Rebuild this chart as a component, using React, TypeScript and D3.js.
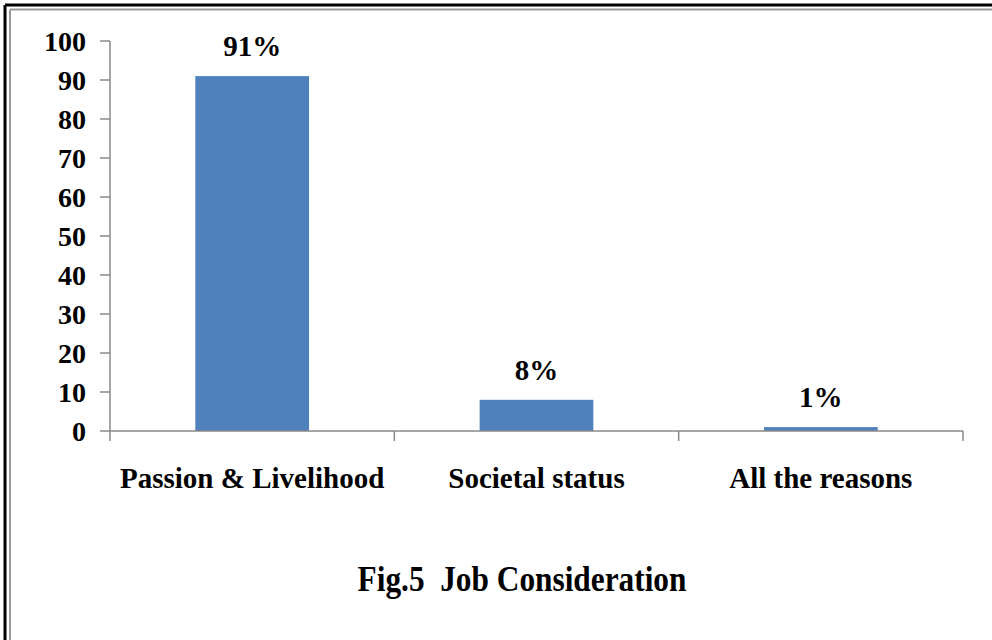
import React from "react";
import * as d3 from "d3";

const categories = ["Passion & Livelihood", "Societal status", "All the reasons"];
const values = [91, 8, 1];
const valueLabels = ["91%", "8%", "1%"];
const yTicks = [0, 10, 20, 30, 40, 50, 60, 70, 80, 90, 100];
const title = "Fig.5  Job Consideration";

const W = 992;
const H = 640;
const x0 = 110, x1 = 963, y0 = 431, y1 = 41;
const font = "'Liberation Serif', 'Times New Roman', serif";

export default function App() {
  const x = d3.scaleBand<string>().domain(categories).range([x0, x1]).paddingInner(0.6).paddingOuter(0.3);
  const xb = d3.scaleBand<string>().domain(categories).range([x0, x1]);
  const y = d3.scaleLinear().domain([0, 100]).range([y0, y1]);
  const boundaries = [x0, ...categories.map((c) => (xb(c) as number) + xb.bandwidth())];
  return (
    <svg width={W} height={H} style={{ position: "absolute", left: 0, top: 0, background: "#fff" }}>
      <rect x={0} y={0} width={W} height={H} fill="#fff" />
      {/* page frame */}
      <line x1={5} y1={5} x2={W} y2={5} stroke="#000" strokeWidth={3} />
      <line x1={5} y1={5} x2={5} y2={H} stroke="#000" strokeWidth={3} />
      <line x1={10} y1={9.5} x2={W} y2={9.5} stroke="#999" strokeWidth={2} />
      <line x1={10} y1={9.5} x2={10} y2={H} stroke="#999" strokeWidth={2} />
      {/* bars */}
      {categories.map((c, i) => (
        <rect key={c} x={x(c)} y={y(values[i])} width={x.bandwidth()} height={y(0) - y(values[i])} fill="#4F81BD" />
      ))}
      {/* y axis */}
      <line x1={x0} y1={y1} x2={x0} y2={y0} stroke="#888" strokeWidth={1.5} />
      {yTicks.map((t) => (
        <g key={t}>
          <line x1={x0 - 10} x2={x0} y1={y(t)} y2={y(t)} stroke="#888" strokeWidth={1.5} />
          <text x={86} y={y(t)} dy="0.36em" textAnchor="end" fontFamily={font} fontWeight="bold" fontSize={28} fill="#000">
            {t}
          </text>
        </g>
      ))}
      {/* x axis */}
      <line x1={x0} y1={y0} x2={x1} y2={y0} stroke="#888" strokeWidth={1.5} />
      {boundaries.map((b, i) => (
        <line key={i} x1={b} x2={b} y1={y0} y2={y0 + 10} stroke="#888" strokeWidth={1.5} />
      ))}
      {categories.map((c) => (
        <text key={c} x={(xb(c) as number) + xb.bandwidth() / 2} y={488} textAnchor="middle" fontFamily={font} fontWeight="bold" fontSize={29} fill="#000">
          {c}
        </text>
      ))}
      {categories.map((c, i) => (
        <text key={c + "v"} x={(x(c) as number) + x.bandwidth() / 2} y={y(values[i]) - 20} textAnchor="middle" fontFamily={font} fontWeight="bold" fontSize={29} fill="#000">
          {valueLabels[i]}
        </text>
      ))}
      <g transform="translate(522,591) scale(0.87,1)">
        <text x={0} y={0} textAnchor="middle" fontFamily={font} fontWeight="bold" fontSize={36} fill="#000" style={{ whiteSpace: "pre" }}>
          {title}
        </text>
      </g>
    </svg>
  );
}
